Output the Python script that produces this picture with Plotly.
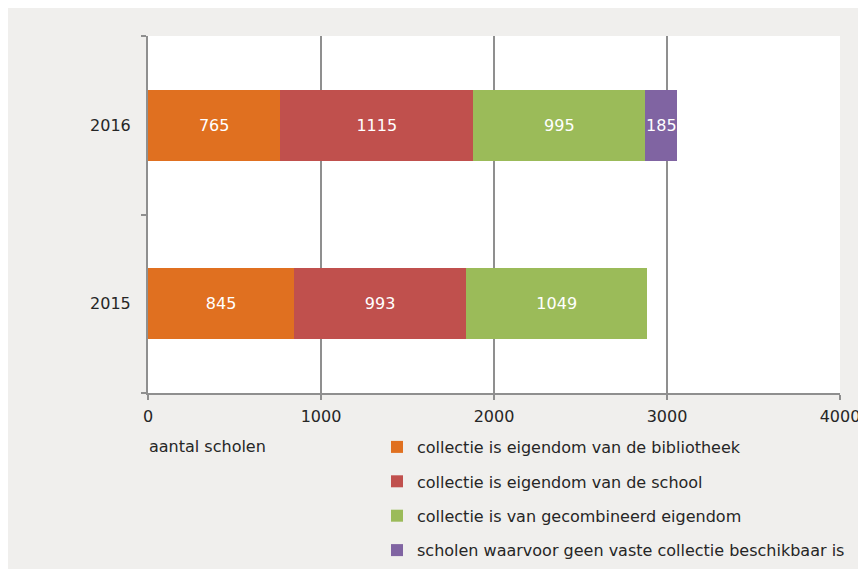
import plotly.graph_objects as go

years = ["2015", "2016"]
series_names = [
    "collectie is eigendom van de bibliotheek",
    "collectie is eigendom van de school",
    "collectie is van gecombineerd eigendom",
    "scholen waarvoor geen vaste collectie beschikbaar is",
]
bibliotheek = [845, 765]
school = [993, 1115]
gecombineerd = [1049, 995]
geen_collectie = [None, 185]
colors = ["#E07020", "#C0504D", "#9BBB59", "#8064A2"]
x_ticks = [0, 1000, 2000, 3000, 4000]

OFF = 8  # page body margin
W, H = 866, 620
# plot area in window pixels: x 148..840, y 36..393
L = 148 - OFF
T = 36 - OFF
R = W - (840 - OFF)
B = H - (393 - OFF)
pw, ph = W - L - R, H - T - B

def px2x(p):  # window px -> paper
    return (p - OFF - L) / pw

def px2y(p):
    return (H - B - (p - OFF)) / ph

FONT = "DejaVu Sans"
FS = 16
fig = go.Figure()
for name, vals, col in zip(series_names, [bibliotheek, school, gecombineerd, geen_collectie], colors):
    fig.add_trace(go.Bar(
        y=years, x=vals, name=name, orientation="h",
        marker=dict(color=col, line=dict(width=0)),
        text=[("" if v is None else str(v)) for v in vals],
        textposition="inside", insidetextanchor="middle", textangle=0,
        constraintext="none",
        textfont=dict(color="white", size=FS, family=FONT),
        legendgroup=name,
    ))

fig.update_layout(
    width=W, height=H,
    margin=dict(l=L, r=R, t=T, b=B, pad=0),
    barmode="stack", bargap=0.6,
    paper_bgcolor="#F0EFED", plot_bgcolor="white",
    font=dict(family=FONT, size=FS, color="#262626"),
    xaxis=dict(range=[0, 4000], tickvals=x_ticks, ticktext=[str(v) for v in x_ticks],
               showgrid=True, gridcolor="#8f8f8f", gridwidth=2,
               showline=True, linecolor="#8f8f8f", linewidth=2,
               ticks="outside", ticklen=5, tickwidth=2, tickcolor="#8f8f8f",
               ticklabelstandoff=3, zeroline=False, fixedrange=True),
    yaxis=dict(type="category", categoryorder="array", categoryarray=years,
               range=[-0.5, 1.5], showgrid=False,
               showline=True, linecolor="#8f8f8f", linewidth=2,
               ticks="outside", tickson="boundaries", ticklen=5, tickwidth=2,
               tickcolor="#8f8f8f", ticklabelstandoff=12, fixedrange=True),
    legend=dict(x=px2x(377), y=px2y(430), xanchor="left", yanchor="top",
                traceorder="grouped", tracegroupgap=10.6, bgcolor="rgba(0,0,0,0)",
                font=dict(size=FS, family=FONT, color="#262626")),
    showlegend=True,
    annotations=[dict(text="aantal scholen", xref="paper", yref="paper",
                      x=px2x(147), y=px2y(447), xanchor="left", yanchor="middle",
                      showarrow=False, font=dict(size=FS, family=FONT, color="#262626"))],
)

fig.write_html("out.html")
